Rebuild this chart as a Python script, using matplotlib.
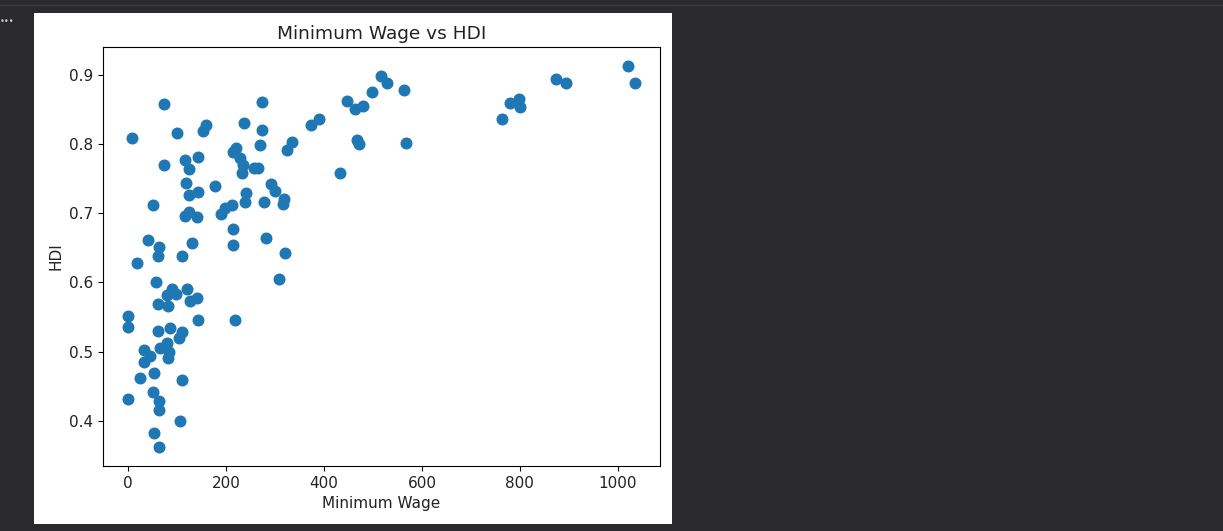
import numpy as np
import matplotlib.pyplot as plt

# minimum wage vs HDI
min_wage = [
    73, 274, 8, 100, 159, 153, 238, 274, 373, 334,
    324, 270, 221, 214, 73, 117, 124, 144, 229, 235,
    234, 257, 265, 118, 178, 124, 144, 52, 293, 301,
    242, 239, 277, 319, 316, 213, 198, 191, 125, 117,
    141, 214, 214, 281, 320, 309, 41, 64, 61, 18,
    110, 130, 57, 90, 80, 99, 121, 61, 83, 126,
    141, 1, 1, 61, 86, 110, 144, 218, 104, 34,
    45, 34, 65, 80, 84, 83, 24, 54, 110, 52,
    1, 64, 64, 107, 54, 64, 391, 448, 463, 479,
    499, 517, 529, 563, 468, 471, 567, 432, 764, 780,
    799, 801, 874, 894, 1020, 1034,
]
hdi = [
    0.858, 0.861, 0.809, 0.816, 0.827, 0.819, 0.830, 0.821, 0.827, 0.803,
    0.791, 0.799, 0.795, 0.788, 0.770, 0.777, 0.764, 0.781, 0.780, 0.770,
    0.759, 0.766, 0.765, 0.744, 0.740, 0.726, 0.731, 0.712, 0.742, 0.732,
    0.730, 0.716, 0.716, 0.721, 0.714, 0.712, 0.708, 0.699, 0.702, 0.696,
    0.694, 0.677, 0.654, 0.664, 0.642, 0.605, 0.662, 0.651, 0.638, 0.628,
    0.638, 0.657, 0.600, 0.590, 0.582, 0.583, 0.590, 0.569, 0.566, 0.573,
    0.577, 0.551, 0.536, 0.530, 0.534, 0.529, 0.545, 0.545, 0.519, 0.502,
    0.494, 0.485, 0.505, 0.513, 0.500, 0.491, 0.462, 0.469, 0.459, 0.442,
    0.431, 0.428, 0.415, 0.399, 0.382, 0.362, 0.837, 0.863, 0.851, 0.855,
    0.876, 0.898, 0.889, 0.878, 0.806, 0.800, 0.801, 0.759, 0.837, 0.859,
    0.865, 0.854, 0.894, 0.888, 0.913, 0.889,
]

fig = plt.figure(figsize=(12.23, 5.31), dpi=100, facecolor="#2a2a2c")

# white output cell behind the chart
fig.patches.append(plt.Rectangle((0.0278, 0.0132), 0.5217, 0.9623,
                                 transform=fig.transFigure, facecolor="white",
                                 edgecolor="none", zorder=-5))
fig.add_artist(plt.Line2D([0, 1], [0.991, 0.991], transform=fig.transFigure,
                          color="#3c3c3e", lw=1, zorder=-5))
fig.text(0.0, 0.955, "•••", color="#cccccc", fontsize=6)

ax = fig.add_axes([0.0842, 0.1224, 0.4554, 0.7891])
ax.set_zorder(2)
ax.scatter(min_wage, hdi, s=58, color="#1f77b4")
ax.set_title("Minimum Wage vs HDI", fontsize=13.3, color="#222222")
ax.set_xlabel("Minimum Wage", fontsize=11, color="#222222")
ax.set_ylabel("HDI", fontsize=11, color="#222222")
ax.tick_params(labelsize=11, labelcolor="#222222")

fig.savefig("out.png", dpi=100, facecolor=fig.get_facecolor())
